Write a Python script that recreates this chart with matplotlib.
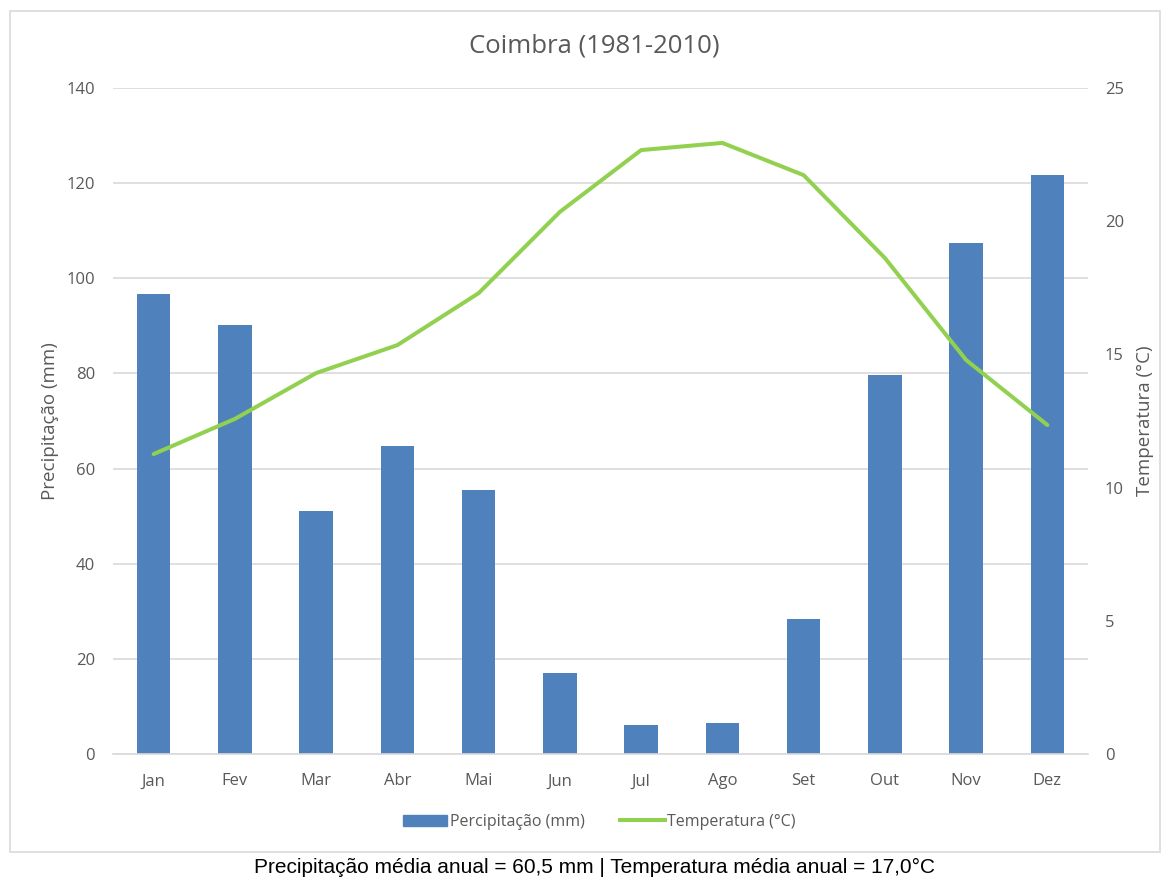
import matplotlib.pyplot as plt
from matplotlib.patches import Rectangle
from matplotlib.lines import Line2D
import matplotlib.font_manager as fm

meses = ['Jan', 'Fev', 'Mar', 'Abr', 'Mai', 'Jun', 'Jul', 'Ago', 'Set', 'Out', 'Nov', 'Dez']
precipitacao = [96.7, 90.2, 51.1, 64.7, 55.5, 17.0, 6.1, 6.5, 28.4, 79.7, 107.4, 121.7]
temperatura = [11.26, 12.58, 14.30, 15.35, 17.30, 20.35, 22.67, 22.94, 21.73, 18.62, 14.79, 12.35]

names = {f.name for f in fm.fontManager.ttflist}
fam = 'Open Sans' if 'Open Sans' in names else 'DejaVu Sans'
plt.rcParams['font.family'] = [fam, 'DejaVu Sans']
cap_fam = ['Liberation Sans Narrow', 'Liberation Sans', 'DejaVu Sans']

cinza = '#595959'
azul = '#4F81BD'
verde = '#92D050'

fig = plt.figure(figsize=(11.7, 8.82), dpi=100)
ax = fig.add_axes([0.0966, 0.1451, 0.8333, 0.7551])
ax2 = ax.twinx()

x = list(range(len(meses)))
ax.bar(x, precipitacao, width=0.41, color=azul, zorder=2)
ax2.plot(x, temperatura, color=verde, lw=2.9, solid_capstyle='round', zorder=3)

ax.set_xlim(-0.5, 11.5)
ax.set_ylim(0, 140)
ax2.set_ylim(0, 25)
ax.set_yticks(range(0, 141, 20))
ax2.set_yticks(range(0, 26, 5))
ax.set_xticks(x)
ax.set_xticklabels(meses)

ax.grid(axis='y', color='#D9D9D9', lw=1.2, zorder=0)
ax.set_axisbelow(True)
for a in (ax, ax2):
    for s in a.spines.values():
        s.set_visible(False)
    a.tick_params(length=0, colors=cinza, labelsize=12)
ax.spines['bottom'].set_visible(True)
ax.spines['bottom'].set_color('#D9D9D9')
ax.spines['bottom'].set_linewidth(1.2)
ax.tick_params(axis='x', pad=14)
ax.tick_params(axis='y', pad=13)
ax2.tick_params(axis='y', pad=12)

ax.set_ylabel('Precipitação (mm)', color=cinza, fontsize=13.5, labelpad=5)
ax2.set_ylabel('Temperatura (°C)', color=cinza, fontsize=13.5, labelpad=9)

fig.text(0.508, 0.948, 'Coimbra (1981-2010)', ha='center', va='center', color=cinza, fontsize=18.5)

handles = [Rectangle((0, 0), 1, 1, color=azul), Line2D([0], [0], color=verde, lw=2.9)]
fig.legend(handles, ['Percipitação (mm)', 'Temperatura (°C)'], loc='center',
           bbox_to_anchor=(0.512, 0.068), ncol=2, frameon=False, fontsize=11.5,
           labelcolor=cinza, handlelength=2.8, handletextpad=0.15, columnspacing=2.2)

fig.patches.append(Rectangle((10 / 1170, 1 - 852 / 882), 1150 / 1170, 841 / 882,
                             transform=fig.transFigure, fill=False, ec='#D9D9D9', lw=1.2))

fig.text(0.508, 0.016, 'Precipitação média anual = 60,5 mm | Temperatura média anual = 17,0°C',
         ha='center', va='center', fontsize=15, family=cap_fam, color='black')

fig.savefig('out.png', dpi=100)
